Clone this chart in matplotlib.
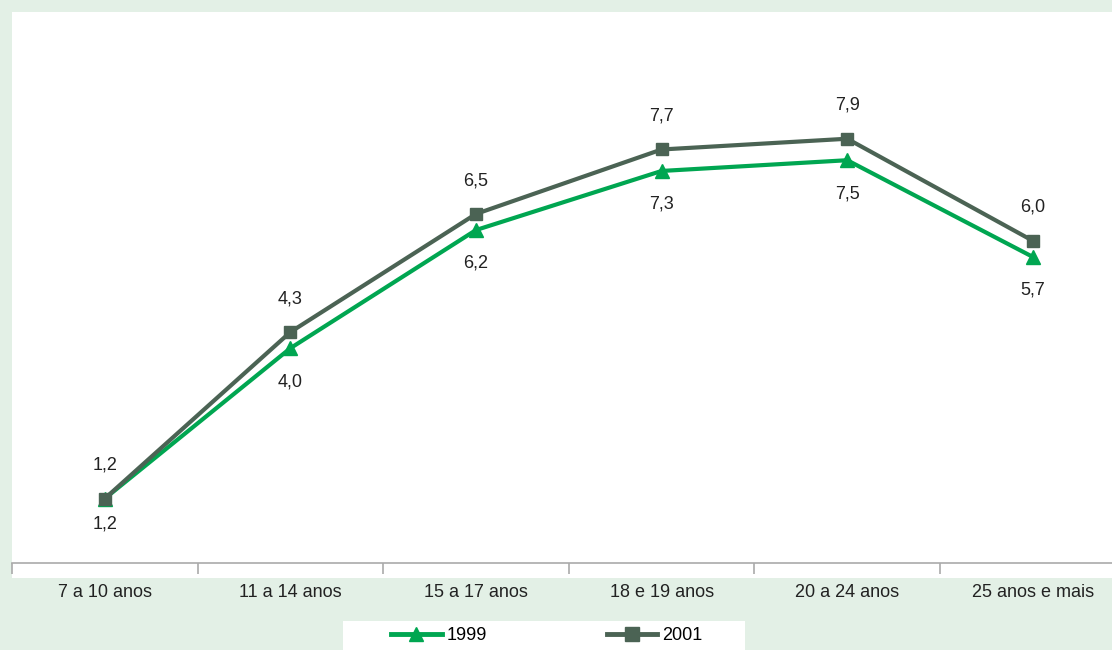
import matplotlib.pyplot as plt
from matplotlib.patches import Rectangle
from matplotlib.lines import Line2D

# dados
categorias = ["7 a 10 anos", "11 a 14 anos", "15 a 17 anos",
              "18 e 19 anos", "20 a 24 anos", "25 anos e mais"]
v1999 = [1.2, 4.0, 6.2, 7.3, 7.5, 5.7]
v2001 = [1.2, 4.3, 6.5, 7.7, 7.9, 6.0]

verde = "#00a651"
cinza = "#4b6354"
fundo = "#e3f0e6"
texto = "#222222"

plt.rcParams['font.family'] = ['Liberation Sans', 'DejaVu Sans']

W, H = 1112, 650
fig = plt.figure(figsize=(W / 100, H / 100), dpi=100, facecolor=fundo)

# area branca do grafico
fig.patches.append(Rectangle((12 / W, 1 - 578 / H), 1 - 12 / W, (578 - 12) / H,
                             transform=fig.transFigure, facecolor="white",
                             edgecolor="none", zorder=-2))
# caixa da legenda
fig.patches.append(Rectangle((343 / W, 0), (745 - 343) / W, (650 - 621) / H,
                             transform=fig.transFigure, facecolor="white",
                             edgecolor="none", zorder=-2))

ax = fig.add_axes([12 / W, 1 - 563 / H, (1125.6 - 12) / W, (563 - 12) / H])
ax.set_zorder(2)
ax.set_facecolor("none")
x = list(range(len(categorias)))

ax.plot(x, v1999, color=verde, lw=3, marker="^", ms=10, zorder=3, clip_on=False)
ax.plot(x, v2001, color=cinza, lw=3, marker="s", ms=9, zorder=4, clip_on=False)

for i, (a, b) in enumerate(zip(v1999, v2001)):
    dy = -18 if i == 0 else -24
    ax.annotate(f"{a:.1f}".replace(".", ","), (i, a), xytext=(0, dy),
                textcoords="offset points", ha="center", va="center",
                fontsize=13, color=texto)
    ax.annotate(f"{b:.1f}".replace(".", ","), (i, b), xytext=(0, 24),
                textcoords="offset points", ha="center", va="center",
                fontsize=13, color=texto)

ax.set_xlim(-0.5, 5.5)
ax.set_ylim(0, 10.26)
for s in ["top", "right", "left"]:
    ax.spines[s].set_visible(False)
ax.spines["bottom"].set_color("#aaaaaa")
ax.spines["bottom"].set_linewidth(1.2)
ax.set_yticks([])
ax.set_xticks(x)
ax.set_xticklabels(categorias, fontsize=13, color=texto)
ax.tick_params(axis="x", which="major", length=0, pad=15)
ax.set_xticks([i - 0.5 for i in range(len(categorias) + 1)], minor=True)
ax.tick_params(axis="x", which="minor", length=8, color="#aaaaaa", width=1.2)

handles = [Line2D([], [], color=verde, lw=3.5, marker="^", ms=10),
           Line2D([], [], color=cinza, lw=3.5, marker="s", ms=10)]
fig.legend(handles, ["1999", "2001"], loc="center", ncol=2,
           bbox_to_anchor=(547 / W, 1 - 636 / H), frameon=False,
           fontsize=13, handlelength=2.8, handletextpad=0.3,
           columnspacing=6.6)

fig.savefig("out.png", dpi=100, facecolor=fundo)
